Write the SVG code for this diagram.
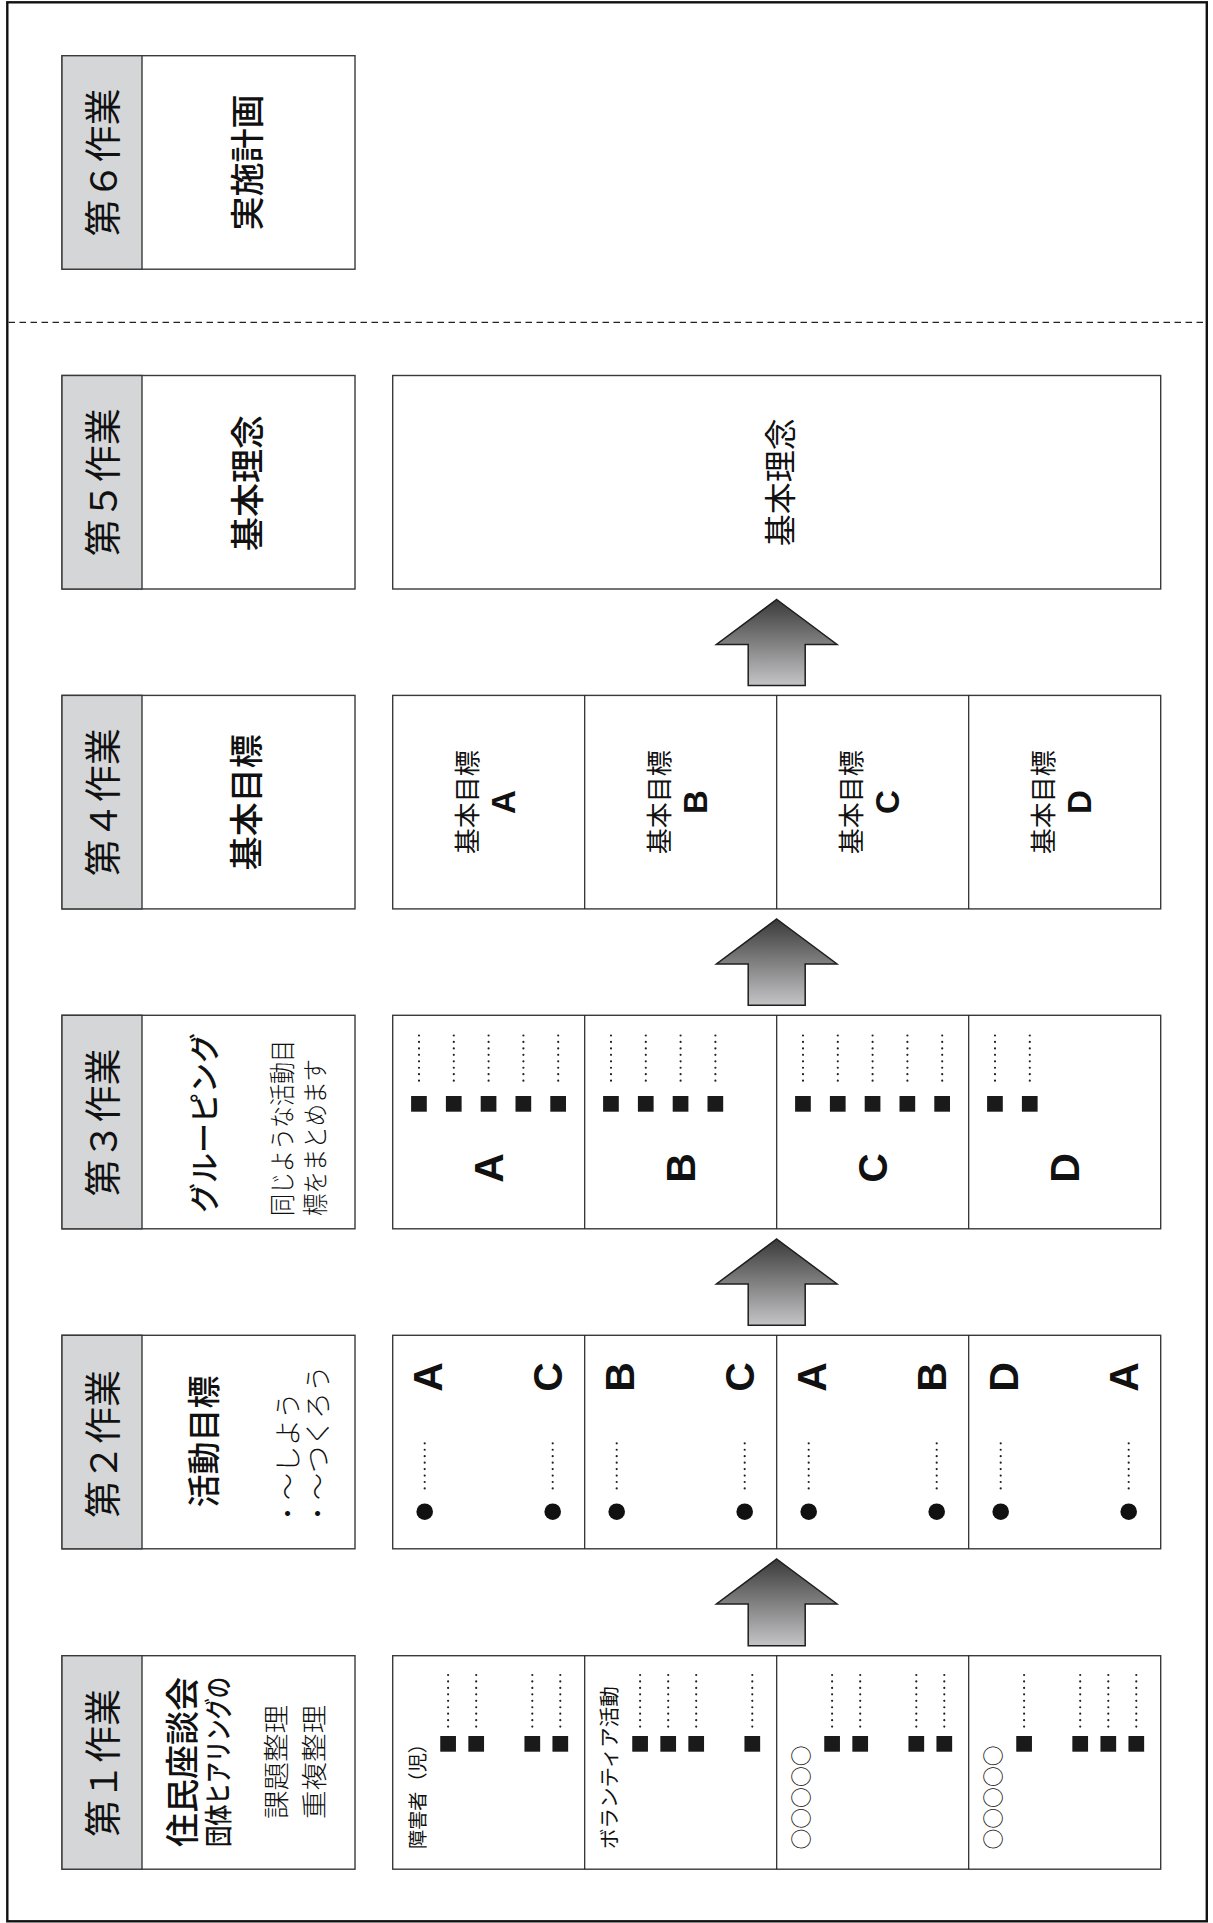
<svg xmlns="http://www.w3.org/2000/svg" width="1213" height="1923" viewBox="0 0 1213 1923">
<style>
.frame{fill:none;stroke:#111;stroke-width:2.4}
.dash{stroke:#222;stroke-width:1.3;stroke-dasharray:6.5 4.5}
.box{fill:#fff;stroke:#3a3a3a;stroke-width:1.4}
.tab{fill:#d5d6d8;stroke:#3a3a3a;stroke-width:1.4}
.div{stroke:#222;stroke-width:1.2}
.jp{font-family:"Noto Sans CJK JP","Noto Sans CJK SC",sans-serif;fill:#111}
.c{text-anchor:middle;dominant-baseline:central}
.s{text-anchor:start;dominant-baseline:central}
.t{font-size:37px;font-weight:400}
.h{font-size:34px;font-weight:500}
.lt{font-weight:300}
.lat{font-family:"Liberation Sans",Arial,sans-serif;font-weight:bold;fill:#111}
.dots{stroke:#222;stroke-width:2.2;stroke-linecap:round;stroke-dasharray:0 6.45;fill:none}
.sq{fill:#1a1a1a}
.dot{fill:#111}
.arrow{fill:url(#ag);stroke:#1e1e1e;stroke-width:1.5}
</style>
<defs>
<linearGradient id="ag" x1="0" y1="0" x2="0" y2="1">
<stop offset="0" stop-color="#3a3a3a"/>
<stop offset="1" stop-color="#c4c4c6"/>
</linearGradient>
</defs>
<rect class="frame" x="7.3" y="2.3" width="1199.5" height="1919"/>
<line class="dash" x1="8.5" y1="322.3" x2="1205.5" y2="322.3"/>

<!-- Step 6 -->
<g id="step6">
<rect class="box" x="62" y="55.7" width="293" height="213.5"/>
<rect class="tab" x="62" y="55.7" width="80" height="213.5"/>
<text class="jp c t" x="101" y="162.5" transform="rotate(-90 101 162.5)">第６作業</text>
<text class="jp c h" x="245" y="162.5" transform="rotate(-90 245 162.5)">実施計画</text>
</g>

<!-- Step 5 -->
<g id="step5">
<rect class="box" x="62" y="375.5" width="293" height="213.5"/>
<rect class="tab" x="62" y="375.5" width="80" height="213.5"/>
<text class="jp c t" x="101" y="482.3" transform="rotate(-90 101 482.3)">第５作業</text>
<text class="jp c h" x="245" y="483" transform="rotate(-90 245 483)">基本理念</text>
</g>
<g id="step5-content">
<rect class="box" x="392.7" y="375.5" width="768" height="213.5"/>
<text class="jp c" font-size="32" x="778" y="482.3" transform="rotate(-90 778 482.3)">基本理念</text>
</g>

<!-- Step 4 -->
<g id="step4">
<rect class="box" x="62" y="695.4" width="293" height="213.5"/>
<rect class="tab" x="62" y="695.4" width="80" height="213.5"/>
<text class="jp c t" x="101" y="802.2" transform="rotate(-90 101 802.2)">第４作業</text>
<text class="jp c h" x="245" y="802.2" transform="rotate(-90 245 802.2)">基本目標</text>
</g>
<g id="step4-content">
<rect class="box" x="392.7" y="695.4" width="768" height="213.5"/>
<line class="div" x1="584.7" y1="695.4" x2="584.7" y2="908.9"/>
<line class="div" x1="776.7" y1="695.4" x2="776.7" y2="908.9"/>
<line class="div" x1="968.7" y1="695.4" x2="968.7" y2="908.9"/>
<g id="goalA"><text class="jp c" font-size="26" x="465.5" y="802.2" transform="rotate(-90 465.5 802.2)">基本目標</text><text class="lat c" font-size="33" x="503.5" y="802.2" transform="rotate(-90 503.5 802.2)">A</text></g>
<g id="goalB"><text class="jp c" font-size="26" x="657.5" y="802.2" transform="rotate(-90 657.5 802.2)">基本目標</text><text class="lat c" font-size="33" x="695.5" y="802.2" transform="rotate(-90 695.5 802.2)">B</text></g>
<g id="goalC"><text class="jp c" font-size="26" x="849.5" y="802.2" transform="rotate(-90 849.5 802.2)">基本目標</text><text class="lat c" font-size="33" x="887.5" y="802.2" transform="rotate(-90 887.5 802.2)">C</text></g>
<g id="goalD"><text class="jp c" font-size="26" x="1041.5" y="802.2" transform="rotate(-90 1041.5 802.2)">基本目標</text><text class="lat c" font-size="33" x="1079.5" y="802.2" transform="rotate(-90 1079.5 802.2)">D</text></g>
</g>

<!-- Step 3 -->
<g id="step3">
<rect class="box" x="62" y="1015.3" width="293" height="213.5"/>
<rect class="tab" x="62" y="1015.3" width="80" height="213.5"/>
<text class="jp c t" x="101" y="1122.5" transform="rotate(-90 101 1122.5)">第３作業</text>
<text class="jp c" font-size="30" font-weight="500" x="202" y="1123" transform="rotate(-90 202 1123)">グルーピング</text>
<text class="jp s lt" font-size="26" x="280" y="1216" textLength="176" lengthAdjust="spacingAndGlyphs" transform="rotate(-90 280 1216)">同じような活動目</text>
<text class="jp s lt" font-size="26" x="313" y="1216" textLength="157" lengthAdjust="spacingAndGlyphs" transform="rotate(-90 313 1216)">標をまとめます</text>
</g>
<g id="step3-content">
<rect class="box" x="392.7" y="1015.3" width="768" height="213.5"/>
<line class="div" x1="584.7" y1="1015.3" x2="584.7" y2="1228.8"/>
<line class="div" x1="776.7" y1="1015.3" x2="776.7" y2="1228.8"/>
<line class="div" x1="968.7" y1="1015.3" x2="968.7" y2="1228.8"/>
<path class="dots" d="M419 1035.5V1087M453.8 1035.5V1087M488.6 1035.5V1087M523.4 1035.5V1087M558.2 1035.5V1087M611 1035.5V1087M645.8 1035.5V1087M680.6 1035.5V1087M715.4 1035.5V1087M803 1035.5V1087M837.8 1035.5V1087M872.6 1035.5V1087M907.4 1035.5V1087M942.2 1035.5V1087M995 1035.5V1087M1029.8 1035.5V1087"/>
<g class="sq">
<rect x="411.1" y="1096" width="15.7" height="15.7"/><rect x="445.9" y="1096" width="15.7" height="15.7"/><rect x="480.7" y="1096" width="15.7" height="15.7"/><rect x="515.5" y="1096" width="15.7" height="15.7"/><rect x="550.3" y="1096" width="15.7" height="15.7"/>
<rect x="603.1" y="1096" width="15.7" height="15.7"/><rect x="637.9" y="1096" width="15.7" height="15.7"/><rect x="672.7" y="1096" width="15.7" height="15.7"/><rect x="707.5" y="1096" width="15.7" height="15.7"/>
<rect x="795.1" y="1096" width="15.7" height="15.7"/><rect x="829.9" y="1096" width="15.7" height="15.7"/><rect x="864.7" y="1096" width="15.7" height="15.7"/><rect x="899.5" y="1096" width="15.7" height="15.7"/><rect x="934.3" y="1096" width="15.7" height="15.7"/>
<rect x="987.1" y="1096" width="15.7" height="15.7"/><rect x="1021.9" y="1096" width="15.7" height="15.7"/>
</g>
<text class="lat c" font-size="41" x="488.7" y="1168" transform="rotate(-90 488.7 1168)">A</text>
<text class="lat c" font-size="41" x="680.7" y="1168" transform="rotate(-90 680.7 1168)">B</text>
<text class="lat c" font-size="41" x="872.7" y="1168" transform="rotate(-90 872.7 1168)">C</text>
<text class="lat c" font-size="41" x="1064.7" y="1168" transform="rotate(-90 1064.7 1168)">D</text>
</g>

<!-- Step 2 -->
<g id="step2">
<rect class="box" x="62" y="1335.3" width="293" height="213.5"/>
<rect class="tab" x="62" y="1335.3" width="80" height="213.5"/>
<text class="jp c t" x="101" y="1444" transform="rotate(-90 101 1444)">第２作業</text>
<text class="jp c" font-size="33" font-weight="500" x="202" y="1441.5" transform="rotate(-90 202 1441.5)">活動目標</text>
<text class="jp s lt" font-size="27" x="286" y="1527" transform="rotate(-90 286 1527)">・〜しよう</text>
<text class="jp s lt" font-size="27" x="316" y="1527" transform="rotate(-90 316 1527)">・〜つくろう</text>
</g>
<g id="step2-content">
<rect class="box" x="392.7" y="1335.3" width="768" height="213.5"/>
<line class="div" x1="584.7" y1="1335.3" x2="584.7" y2="1548.8"/>
<line class="div" x1="776.7" y1="1335.3" x2="776.7" y2="1548.8"/>
<line class="div" x1="968.7" y1="1335.3" x2="968.7" y2="1548.8"/>
<path class="dots" d="M424.7 1443.3V1493.3M552.7 1443.3V1493.3M616.7 1443.3V1493.3M744.7 1443.3V1493.3M808.7 1443.3V1493.3M936.7 1443.3V1493.3M1000.7 1443.3V1493.3M1128.7 1443.3V1493.3"/>
<g class="dot">
<circle cx="424.7" cy="1511.7" r="8.3"/><circle cx="552.7" cy="1511.7" r="8.3"/><circle cx="616.7" cy="1511.7" r="8.3"/><circle cx="744.7" cy="1511.7" r="8.3"/><circle cx="808.7" cy="1511.7" r="8.3"/><circle cx="936.7" cy="1511.7" r="8.3"/><circle cx="1000.7" cy="1511.7" r="8.3"/><circle cx="1128.7" cy="1511.7" r="8.3"/>
</g>
<text class="lat c" font-size="41" x="428" y="1377" transform="rotate(-90 428 1377)">A</text>
<text class="lat c" font-size="41" x="548.2" y="1377" transform="rotate(-90 548.2 1377)">C</text>
<text class="lat c" font-size="41" x="620" y="1377" transform="rotate(-90 620 1377)">B</text>
<text class="lat c" font-size="41" x="740.2" y="1377" transform="rotate(-90 740.2 1377)">C</text>
<text class="lat c" font-size="41" x="812" y="1377" transform="rotate(-90 812 1377)">A</text>
<text class="lat c" font-size="41" x="932.2" y="1377" transform="rotate(-90 932.2 1377)">B</text>
<text class="lat c" font-size="41" x="1004" y="1377" transform="rotate(-90 1004 1377)">D</text>
<text class="lat c" font-size="41" x="1124.2" y="1377" transform="rotate(-90 1124.2 1377)">A</text>
</g>

<!-- Step 1 -->
<g id="step1">
<rect class="box" x="62" y="1655.7" width="293" height="213.5"/>
<rect class="tab" x="62" y="1655.7" width="80" height="213.5"/>
<text class="jp c t" x="101" y="1763" transform="rotate(-90 101 1763)">第１作業</text>
<text class="jp c" font-size="34" font-weight="500" x="180" y="1762" transform="rotate(-90 180 1762)">住民座談会</text>
<text class="jp c" font-size="28" font-weight="500" x="217" y="1762" textLength="170" lengthAdjust="spacingAndGlyphs" transform="rotate(-90 217 1762)">団体ヒアリングの</text>
<text class="jp c lt" font-size="26" x="274" y="1762" textLength="114" lengthAdjust="spacingAndGlyphs" transform="rotate(-90 274 1762)">課題整理</text>
<text class="jp c lt" font-size="26" x="312.5" y="1762" textLength="114" lengthAdjust="spacingAndGlyphs" transform="rotate(-90 312.5 1762)">重複整理</text>
</g>
<g id="step1-content">
<rect class="box" x="392.7" y="1655.7" width="768" height="213.5"/>
<line class="div" x1="584.7" y1="1655.7" x2="584.7" y2="1869.2"/>
<line class="div" x1="776.7" y1="1655.7" x2="776.7" y2="1869.2"/>
<line class="div" x1="968.7" y1="1655.7" x2="968.7" y2="1869.2"/>
<text class="jp s" font-size="19.5" x="416" y="1849" textLength="115" lengthAdjust="spacingAndGlyphs" transform="rotate(-90 416 1849)">障害者（児）</text>
<text class="jp s" font-size="20.5" x="608" y="1849" transform="rotate(-90 608 1849)">ボランティア活動</text>
<text class="jp s" font-size="20.6" x="800" y="1849.5" textLength="104" lengthAdjust="spacingAndGlyphs" transform="rotate(-90 800 1849.5)">○○○○○</text>
<text class="jp s" font-size="20.6" x="992" y="1849.5" textLength="104" lengthAdjust="spacingAndGlyphs" transform="rotate(-90 992 1849.5)">○○○○○</text>
<path class="dots" d="M448.1 1675V1727M476.2 1675V1727M532.3 1675V1727M560.3 1675V1727M640.1 1675V1727M668.2 1675V1727M696.2 1675V1727M752.3 1675V1727M832.1 1675V1727M860.2 1675V1727M916.3 1675V1727M944.3 1675V1727M1024.1 1675V1727M1080.2 1675V1727M1108.3 1675V1727M1136.3 1675V1727"/>
<g class="sq">
<rect x="440.25" y="1736" width="15.7" height="15.7"/><rect x="468.35" y="1736" width="15.7" height="15.7"/><rect x="524.45" y="1736" width="15.7" height="15.7"/><rect x="552.45" y="1736" width="15.7" height="15.7"/>
<rect x="632.25" y="1736" width="15.7" height="15.7"/><rect x="660.35" y="1736" width="15.7" height="15.7"/><rect x="688.35" y="1736" width="15.7" height="15.7"/><rect x="744.45" y="1736" width="15.7" height="15.7"/>
<rect x="824.25" y="1736" width="15.7" height="15.7"/><rect x="852.35" y="1736" width="15.7" height="15.7"/><rect x="908.45" y="1736" width="15.7" height="15.7"/><rect x="936.45" y="1736" width="15.7" height="15.7"/>
<rect x="1016.25" y="1736" width="15.7" height="15.7"/><rect x="1072.35" y="1736" width="15.7" height="15.7"/><rect x="1100.45" y="1736" width="15.7" height="15.7"/><rect x="1128.45" y="1736" width="15.7" height="15.7"/>
</g>
</g>

<!-- Connectors -->
<g id="connectors">
<path class="arrow" d="M776.7 1559L837 1604H805.2V1645.7H748.2V1604H716.4Z"/>
<path class="arrow" d="M776.7 1239L837 1284H805.2V1325.3H748.2V1284H716.4Z"/>
<path class="arrow" d="M776.7 919L837 964H805.2V1005.3H748.2V964H716.4Z"/>
<path class="arrow" d="M776.7 599.5L837 644.5H805.2V685.4H748.2V644.5H716.4Z"/>
</g>
</svg>
